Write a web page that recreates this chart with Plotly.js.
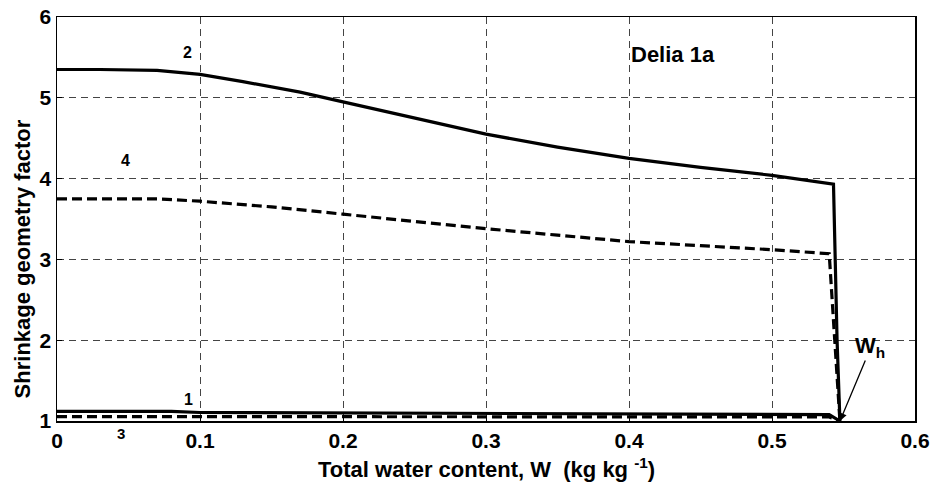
<!DOCTYPE html>
<html>
<head>
<meta charset="utf-8">
<script src="https://cdn.plot.ly/plotly-3.0.1.min.js"></script>
<style>html,body{margin:0;padding:0;background:#fff;}#chart{width:935px;height:489px;}</style>
</head>
<body>
<div id="chart"></div>
<script>
// Curve 2 (solid, upper)
var x2 = [0, 0.03, 0.07, 0.1, 0.13, 0.17, 0.2, 0.25, 0.3, 0.35, 0.4, 0.45, 0.5, 0.543, 0.5455, 0.5475];
var y2 = [5.35, 5.35, 5.34, 5.29, 5.2, 5.07, 4.95, 4.75, 4.55, 4.39, 4.25, 4.14, 4.04, 3.93, 2.0, 1.0];
// Curve 4 (dashed, upper)
var x4 = [0, 0.03, 0.07, 0.1, 0.15, 0.2, 0.25, 0.3, 0.35, 0.4, 0.45, 0.5, 0.54, 0.5475];
var y4 = [3.75, 3.75, 3.75, 3.72, 3.65, 3.56, 3.47, 3.38, 3.30, 3.22, 3.17, 3.12, 3.07, 1.0];
// Curve 1 (solid, lower)
var x1 = [0, 0.08, 0.1, 0.2, 0.3, 0.4, 0.5, 0.54, 0.5475];
var y1 = [1.12, 1.12, 1.105, 1.10, 1.09, 1.085, 1.08, 1.08, 1.0];
// Curve 3 (dashed, lower)
var x3 = [0, 0.1, 0.2, 0.3, 0.4, 0.5, 0.54, 0.5475];
var y3 = [1.055, 1.055, 1.055, 1.05, 1.05, 1.05, 1.05, 1.0];

var xTicks = [0, 0.1, 0.2, 0.3, 0.4, 0.5, 0.6];
var xTickText = ['0', '0.1', '0.2', '0.3', '0.4', '0.5', '0.6'];
var yTicks = [1, 2, 3, 4, 5, 6];
var yTickText = ['1', '2', '3', '4', '5', '6'];

var curveLabels = ['2', '4', '1'];
var labelX = [0.0916, 0.0476, 0.092];
var labelY = [5.56, 4.22, 1.27];

var lineStyle = function(dash){ return {color:'#000', width:3.2, dash:dash}; };
var traces = [
  {x:x2, y:y2, mode:'lines', line:lineStyle('solid'), hoverinfo:'skip'},
  {x:x4, y:y4, mode:'lines', line:lineStyle('10px,5px'), hoverinfo:'skip'},
  {x:x1, y:y1, mode:'lines', line:lineStyle('solid'), hoverinfo:'skip'},
  {x:x3, y:y3, mode:'lines', line:lineStyle('10px,5px'), hoverinfo:'skip'}
];

var fam = 'Liberation Sans, Arial, sans-serif';
function f(size){ return {family:fam, color:'#000', size:size, weight:700}; }
function bold(arr){ return arr.map(function(t){ return '<b>'+t+'</b>'; }); }

var annotations = curveLabels.map(function(t,i){
  return {x:labelX[i], y:labelY[i], xref:'x', yref:'y', text:'<b>'+t+'</b>', showarrow:false, font:f(16)};
});
// label "3" sits just below the x axis
annotations.push({x:0.045, xref:'x', y:0, yref:'paper', yanchor:'top', yshift:-2, text:'<b>3</b>', showarrow:false, font:f(15)});
annotations.push({x:0.4, y:5.53, xref:'x', yref:'y', text:'<b>Delia 1a</b>', showarrow:false,
  xanchor:'left', font:f(22)});
// W_h label and arrow
annotations.push({x:0.5475, y:1.0, xref:'x', yref:'y', ax:26, ay:-62,
  text:'', showarrow:true, arrowhead:2, arrowsize:1.2, arrowwidth:1.3, arrowcolor:'#000'});
annotations.push({x:0.5566, y:1.92, xref:'x', yref:'y', text:'<b>W<sub>h</sub></b>', showarrow:false,
  xanchor:'left', yanchor:'middle', font:f(22)});
// axis titles
annotations.push({x:0.5, xref:'paper', y:0, yref:'paper', yshift:-47, yanchor:'middle',
  text:'<b>Total water content, W  (kg kg <sup>-1</sup>)</b>', showarrow:false, font:f(22)});
annotations.push({x:0, xref:'paper', xshift:-35, xanchor:'center', y:3.0, yref:'y', textangle:-90,
  text:'<b>Shrinkage geometry factor</b>', showarrow:false, font:f(22)});

var axisCommon = {showgrid:true, gridcolor:'#444', griddash:'7px,5px', gridwidth:1, zeroline:false,
  showline:true, linecolor:'#000', linewidth:1.5, mirror:true, ticks:'inside', ticklen:5,
  tickcolor:'#000', tickfont:f(21), automargin:false};

var layout = {
  width:935, height:489,
  margin:{l:57, r:20, t:17, b:68},
  paper_bgcolor:'#fff', plot_bgcolor:'#fff',
  showlegend:false,
  xaxis:Object.assign({range:[0,0.6], tickvals:xTicks, ticktext:bold(xTickText)}, axisCommon),
  yaxis:Object.assign({range:[1,6], tickvals:yTicks, ticktext:bold(yTickText)}, axisCommon),
  annotations:annotations
};

Plotly.newPlot('chart', traces, layout, {displayModeBar:false, staticPlot:true});
</script>
</body>
</html>
